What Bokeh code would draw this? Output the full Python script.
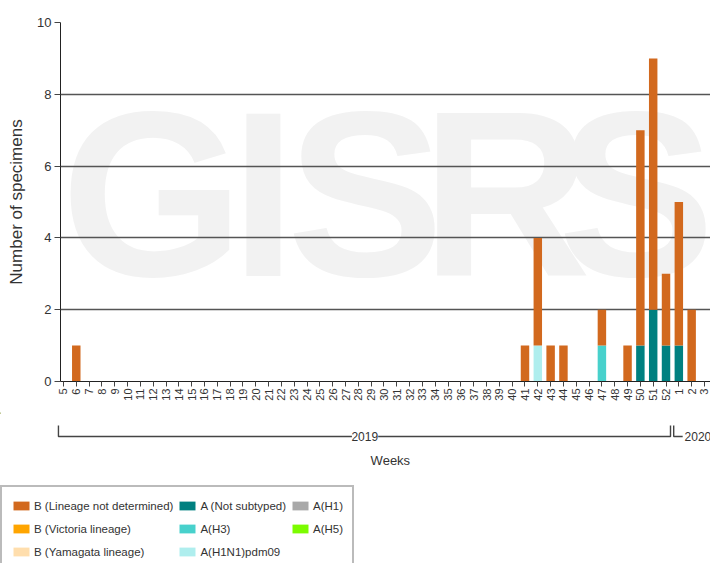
import math
from bokeh.plotting import figure
from bokeh.models import Range1d, FixedTicker, Legend, LegendItem, ColumnDataSource
from bokeh.layouts import column
from bokeh.embed import file_html
from bokeh.resources import INLINE
from bokeh.core.properties import value

# ---------------- data ----------------
weeks = ["5", "6", "7", "8", "9", "10", "11", "12", "13", "14",
         "15", "16", "17", "18", "19", "20", "21", "22", "23", "24",
         "25", "26", "27", "28", "29", "30", "31", "32", "33", "34",
         "35", "36", "37", "38", "39", "40", "41", "42", "43", "44",
         "45", "46", "47", "48", "49", "50", "51", "52", "1", "2", "3"]
years = ["2019", "2020"]
weeks_per_year = [48, 3]

a_h1 = [0] * 51
a_h5 = [0] * 51
b_victoria = [0] * 51
b_yamagata = [0] * 51
a_h1n1pdm09 = [0, 0, 0, 0, 0, 0, 0, 0, 0, 0,
               0, 0, 0, 0, 0, 0, 0, 0, 0, 0,
               0, 0, 0, 0, 0, 0, 0, 0, 0, 0,
               0, 0, 0, 0, 0, 0, 0, 1, 0, 0,
               0, 0, 0, 0, 0, 0, 0, 0, 0, 0, 0]
a_h3 = [0, 0, 0, 0, 0, 0, 0, 0, 0, 0,
        0, 0, 0, 0, 0, 0, 0, 0, 0, 0,
        0, 0, 0, 0, 0, 0, 0, 0, 0, 0,
        0, 0, 0, 0, 0, 0, 0, 0, 0, 0,
        0, 0, 1, 0, 0, 0, 0, 0, 0, 0, 0]
a_not_subtyped = [0, 0, 0, 0, 0, 0, 0, 0, 0, 0,
                  0, 0, 0, 0, 0, 0, 0, 0, 0, 0,
                  0, 0, 0, 0, 0, 0, 0, 0, 0, 0,
                  0, 0, 0, 0, 0, 0, 0, 0, 0, 0,
                  0, 0, 0, 0, 0, 1, 2, 1, 1, 0, 0]
b_lineage_nd = [0, 1, 0, 0, 0, 0, 0, 0, 0, 0,
                0, 0, 0, 0, 0, 0, 0, 0, 0, 0,
                0, 0, 0, 0, 0, 0, 0, 0, 0, 0,
                0, 0, 0, 0, 0, 0, 1, 3, 1, 1,
                0, 0, 1, 0, 1, 6, 7, 2, 4, 2, 0]

series_keys = ["a_h1", "a_h1n1pdm09", "a_h3", "a_h5", "a_not_subtyped",
               "b_yamagata", "b_victoria", "b_lineage_nd"]
series_colors = ["#a9a9a9", "#afeeee", "#48d1cc", "#7cfc00", "#008080",
                 "#ffdead", "#ffa500", "#d2691e"]
legend_order = ["b_lineage_nd", "b_victoria", "b_yamagata",
                "a_not_subtyped", "a_h3", "a_h1n1pdm09",
                "a_h1", "a_h5"]
legend_labels = {"b_lineage_nd": "B (Lineage not determined)",
                 "b_victoria": "B (Victoria lineage)",
                 "b_yamagata": "B (Yamagata lineage)",
                 "a_not_subtyped": "A (Not subtyped)",
                 "a_h3": "A(H3)",
                 "a_h1n1pdm09": "A(H1N1)pdm09",
                 "a_h1": "A(H1)",
                 "a_h5": "A(H5)"}
y_ticks = [0, 2, 4, 6, 8, 10]

# ---------------- styling constants ----------------
FONT = "Liberation Sans"
TXT = "#333333"
X0, X1 = -0.23, 50.47
LEFT = 60
W = 710
scale = (W - LEFT) / (X1 - X0)
yscale = 359 / 10.0

idx = list(range(len(weeks)))
src = ColumnDataSource(dict(x=idx, a_h1=a_h1, a_h1n1pdm09=a_h1n1pdm09, a_h3=a_h3,
                            a_h5=a_h5, a_not_subtyped=a_not_subtyped,
                            b_yamagata=b_yamagata, b_victoria=b_victoria,
                            b_lineage_nd=b_lineage_nd))

p = figure(width=W, height=412, x_range=Range1d(X0, X1), y_range=Range1d(0, 10),
           output_backend="svg", toolbar_location=None,
           min_border_left=LEFT, min_border_right=0, min_border_top=22, min_border_bottom=31)
p.outline_line_color = None
p.background_fill_color = "white"
p.border_fill_color = "white"

# watermark (decoration)
wm_letters = ["G", "I", "S", "R", "S"]
wm_px = [152, 263, 365, 506, 636]
wm_x = [(px - 63) / scale for px in wm_px]
p.text(x=wm_x, y=[(381 - 194) / yscale] * 5, text=wm_letters, text_font=value(FONT),
       text_font_style="bold", text_font_size="235px", text_color="#f2f2f2",
       text_align="center", text_baseline="middle", level="image")

p.vbar_stack(series_keys, x="x", width=0.66, color=series_colors, line_color=None, source=src)

p.xgrid.visible = False
p.ygrid.ticker = FixedTicker(ticks=[2, 4, 6, 8, 10])
p.ygrid.grid_line_color = "#555555"
p.ygrid.grid_line_width = 1.6

ya = p.yaxis[0]
ya.ticker = FixedTicker(ticks=y_ticks)
ya.axis_label = "Number of specimens"
ya.axis_label_text_font = FONT
ya.axis_label_text_font_size = "17px"
ya.axis_label_text_font_style = "normal"
ya.axis_label_text_color = TXT
ya.axis_label_standoff = 8
ya.major_label_text_font = FONT
ya.major_label_text_font_size = "13px"
ya.major_label_text_color = TXT
ya.major_label_standoff = 3
ya.major_tick_out = 6
ya.major_tick_in = 0
ya.minor_tick_line_color = None
ya.axis_line_color = "#222222"
ya.major_tick_line_color = "#444444"

xa = p.xaxis[0]
xa.ticker = FixedTicker(ticks=idx)
xa.major_label_overrides = {i: w for i, w in zip(idx, weeks)}
xa.major_label_orientation = math.pi / 2
xa.major_label_text_font = FONT
xa.major_label_text_font_size = "11px"
xa.major_label_text_color = TXT
xa.major_label_standoff = 2
xa.major_tick_out = 5
xa.major_tick_in = 0
xa.minor_tick_line_color = None
xa.axis_line_color = "#222222"
xa.major_tick_line_color = "#444444"

# ---------------- lower panel: year brackets, axis title, legend ----------------
H2 = 151
p2 = figure(width=W, height=H2, x_range=Range1d(X0 - LEFT / scale, X1), y_range=Range1d(H2, 0),
            output_backend="svg", toolbar_location=None,
            x_axis_location=None, y_axis_location=None,
            min_border_left=0, min_border_right=0, min_border_top=0, min_border_bottom=0)
p2.frame_align = False
p2.outline_line_color = None
p2.grid.visible = False
p2.background_fill_color = "white"
p2.border_fill_color = "white"

# year brackets (positions in week-index units)
n19 = weeks_per_year[0]
y_line, y_top = 24, 13
left19, right19 = -0.39, n19 - 0.65
p2.multi_line(xs=[[left19, left19, 22.5], [24.55, right19, right19],
                  [n19 - 0.4, n19 - 0.4, n19 + 0.3]],
              ys=[[y_top, y_line, y_line], [y_line, y_line, y_top],
                  [y_top, y_line, y_line]],
              line_color="#444444", line_width=1.4)
p2.text(x=[(n19 - 1) / 2, n19 + 0.45], y=[y_line, y_line], text=years,
        text_align=["center", "left"], text_baseline="middle",
        text_font=value(FONT), text_font_size="12px", text_color=TXT)
p2.text(x=[25.5], y=[47.5], text=["Weeks"], text_align="center", text_baseline="middle",
        text_font=value(FONT), text_font_size="13px", text_color=TXT)

dummy = {}
for k, c in zip(series_keys, series_colors):
    dummy[k] = p2.vbar(x=[-1000], top=[0], bottom=[1], width=0.5, fill_color=c, line_color=None)
items = [LegendItem(label=legend_labels[k], renderers=[dummy[k]]) for k in legend_order]
leg = Legend(items=items, location=(0, -9), orientation="vertical", nrows=3,
             label_text_font=FONT, label_text_font_size="11.5px", label_text_color=TXT,
             glyph_width=20, glyph_height=11, label_standoff=3, label_height=19,
             spacing=4, padding=9, margin=0,
             border_line_color="#777777", border_line_width=2,
             background_fill_color="white", background_fill_alpha=1.0)
p2.add_layout(leg)

layout = column(p, p2, spacing=0)
open("out.html", "w").write(file_html(layout, INLINE))
